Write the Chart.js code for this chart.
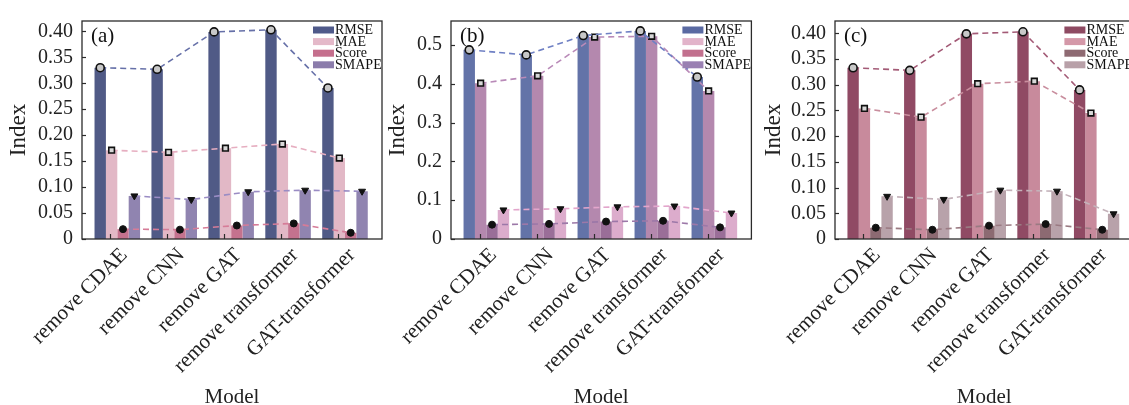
<!DOCTYPE html>
<html>
<head>
<meta charset="utf-8">
<title>Ablation index comparison</title>
<script src="https://cdn.jsdelivr.net/npm/chart.js@4.4.1/dist/chart.umd.min.js"></script>
<style>
    html, body { margin: 0; padding: 0; background: #ffffff; }
    #wrap { position: relative; width: 1129px; height: 405px; overflow: hidden; background: #ffffff; }
    .panel { position: absolute; top: 0; height: 405px; }
</style>
</head>
<body>
<div id="wrap">
    <div class="panel" style="left:0px;width:388px"><canvas id="chartA"></canvas></div>
    <div class="panel" style="left:379px;width:378px"><canvas id="chartB"></canvas></div>
    <div class="panel" style="left:755px;width:384px"><canvas id="chartC"></canvas></div>
</div>
<script>
// categories and metric names
const models = ['remove CDAE', 'remove CNN', 'remove GAT', 'remove transformer', 'GAT-transformer'];
const metrics = ['RMSE', 'MAE', 'Score', 'SMAPE'];

// panel (a)
const rmseA = [0.330, 0.327, 0.399, 0.403, 0.291];
const maeA = [0.171, 0.167, 0.175, 0.183, 0.156];
const scoreA = [0.019, 0.018, 0.026, 0.030, 0.012];
const smapeA = [0.083, 0.076, 0.091, 0.094, 0.092];

// panel (b)
const rmseB = [0.488, 0.475, 0.525, 0.537, 0.418];
const maeB = [0.402, 0.421, 0.521, 0.523, 0.382];
const scoreB = [0.037, 0.039, 0.045, 0.047, 0.030];
const smapeB = [0.075, 0.078, 0.083, 0.085, 0.067];

// panel (c)
const rmseC = [0.333, 0.328, 0.399, 0.403, 0.290];
const maeC = [0.254, 0.237, 0.302, 0.307, 0.245];
const scoreC = [0.022, 0.018, 0.026, 0.029, 0.018];
const smapeC = [0.083, 0.077, 0.095, 0.093, 0.049];

const SERIF = '"Liberation Serif", "DejaVu Serif", serif';
const INK = '#222222';

// marker look per metric (same in every panel)
const markers = [
    { pointStyle: 'circle', radius: 4, bg: '#c8c8c8', border: '#111111', bw: 1.6, rot: 0 },
    { pointStyle: 'rect', radius: 4, bg: '#d8d8d8', border: '#111111', bw: 1.6, rot: 0 },
    { pointStyle: 'circle', radius: 3.5, bg: '#111111', border: '#111111', bw: 1, rot: 0 },
    { pointStyle: 'triangle', radius: 4, bg: '#111111', border: '#111111', bw: 1, rot: 180 }
];

// frame, inward ticks, legend and panel letter
const decorPlugin = {
    id: 'decor',
    afterDatasetsDraw(chart) {
        const ctx = chart.ctx;
        const a = chart.chartArea;
        ctx.save();
        ctx.strokeStyle = '#2b2b2b';
        ctx.lineWidth = 1.3;
        ctx.strokeRect(a.left, a.top, a.right - a.left, a.bottom - a.top);
        // inward tick marks
        ctx.lineWidth = 1.2;
        const ys = chart.scales.y;
        ys.ticks.forEach(t => {
            const py = Math.round(ys.getPixelForValue(t.value)) + 0.5;
            ctx.beginPath(); ctx.moveTo(a.left, py); ctx.lineTo(a.left + 4, py); ctx.stroke();
        });
        const xs = chart.scales.x;
        xs.ticks.forEach(t => {
            const px = Math.round(xs.getPixelForValue(t.value - 0.12)) + 0.5;
            ctx.beginPath(); ctx.moveTo(px, a.bottom); ctx.lineTo(px, a.bottom - 5); ctx.stroke();
        });
        ctx.restore();
    },
    afterDraw(chart, args, opts) {
        const ctx = chart.ctx;
        const a = chart.chartArea;
        ctx.save();
        // panel letter
        ctx.fillStyle = '#111111';
        ctx.font = '21px ' + SERIF;
        ctx.textBaseline = 'middle';
        ctx.textAlign = 'left';
        ctx.fillText(opts.letter, a.left + 9, a.top + 15);
        // legend
        ctx.font = '14px ' + SERIF;
        metrics.forEach((m, k) => {
            const cy = a.top + 9 + k * 11.6;
            const sx = a.right - 69;
            ctx.fillStyle = opts.colors[k];
            ctx.fillRect(sx, cy - 3.5, 21, 7);
            ctx.fillStyle = '#111111';
            ctx.fillText(m, sx + 22, cy + 0.5);
        });
        ctx.restore();
    }
};

function buildChart(canvasId, letter, series, barColors, lineColors, legendColors, yMax, yStep, yDigits, yWidth, padRight) {
    const datasets = [];
    // bars first
    series.forEach((vals, k) => {
        datasets.push({
            type: 'bar',
            label: metrics[k],
            data: vals.map((v, i) => ({ x: i, y: v })),
            backgroundColor: barColors[k],
            borderWidth: 0,
            categoryPercentage: 0.8,
            barPercentage: 1.0,
            order: 2
        });
    });
    // dashed lines through the bar centres
    series.forEach((vals, k) => {
        const mk = markers[k];
        datasets.push({
            type: 'line',
            label: metrics[k] + ' line',
            data: vals.map((v, i) => ({ x: i + (k - 1.5) * 0.2, y: v })),
            borderColor: lineColors[k],
            borderWidth: 1.6,
            borderDash: [6, 4],
            tension: 0,
            fill: false,
            pointStyle: mk.pointStyle,
            pointRadius: mk.radius,
            pointRotation: mk.rot,
            pointBackgroundColor: mk.bg,
            pointBorderColor: mk.border,
            pointBorderWidth: mk.bw,
            order: 1
        });
    });

    return new Chart(document.getElementById(canvasId), {
        type: 'bar',
        data: { datasets: datasets },
        options: {
            responsive: true,
            maintainAspectRatio: false,
            animation: false,
            layout: { padding: { top: 14, right: padRight, bottom: 0, left: 0 } },
            scales: {
                x: {
                    type: 'linear',
                    offset: false,
                    min: -0.62,
                    max: 4.65,
                    afterBuildTicks: axis => { axis.ticks = models.map((_, i) => ({ value: i })); },
                    afterFit: s => { s.height = 166; },
                    grid: { display: false, drawTicks: false, offset: false },
                    border: { display: false },
                    ticks: {
                        autoSkip: false,
                        maxRotation: 45,
                        minRotation: 45,
                        padding: 4,
                        labelOffset: 7,
                        color: INK,
                        font: { family: SERIF, size: 21 },
                        callback: v => models[v]
                    },
                    title: { display: true, text: 'Model', color: INK, font: { family: SERIF, size: 21 }, padding: { top: 0, bottom: -5 } }
                },
                y: {
                    min: 0,
                    max: yMax,
                    afterFit: s => { s.width = yWidth; },
                    grid: { display: false, drawTicks: false },
                    border: { display: false },
                    ticks: {
                        stepSize: yStep,
                        includeBounds: false,
                        padding: 9,
                        color: INK,
                        font: { family: SERIF, size: 20 },
                        callback: v => (v === 0 ? '0' : v.toFixed(yDigits))
                    },
                    title: { display: true, text: 'Index', color: INK, font: { family: SERIF, size: 23 }, padding: { top: 5, bottom: 0 } }
                }
            },
            plugins: {
                legend: { display: false },
                tooltip: { enabled: false },
                decor: { letter: letter, colors: legendColors }
            }
        },
        plugins: [decorPlugin]
    });
}

buildChart('chartA', '(a)', [rmseA, maeA, scoreA, smapeA],
    ['#505a86', '#e2b8c6', '#c4728e', '#9084b0'],
    ['#6670a8', '#e6aec0', '#d67c98', '#9a8cc4'],
    ['#4f5a8a', '#e4b9c9', '#c56f8d', '#8b7cab'],
    0.42, 0.05, 2, 82, 6);

buildChart('chartB', '(b)', [rmseB, maeB, scoreB, smapeB],
    ['#6373a8', '#b488ae', '#9a6e98', '#dcaccc'],
    ['#6f80c4', '#b98ab8', '#9c78a8', '#e3a6cc'],
    ['#5a6aa2', '#e2b4ca', '#c2708e', '#9a80b2'],
    0.5625, 0.1, 1, 72, 4);

buildChart('chartC', '(c)', [rmseC, maeC, scoreC, smapeC],
    ['#904a64', '#c88a9c', '#8c6a72', '#b8a2aa'],
    ['#a35a76', '#c98e9e', '#9a7a82', '#c4b2ba'],
    ['#8e4a62', '#d498a8', '#8e6a72', '#b8a0a8'],
    0.424, 0.05, 2, 80, 4);
</script>
</body>
</html>
